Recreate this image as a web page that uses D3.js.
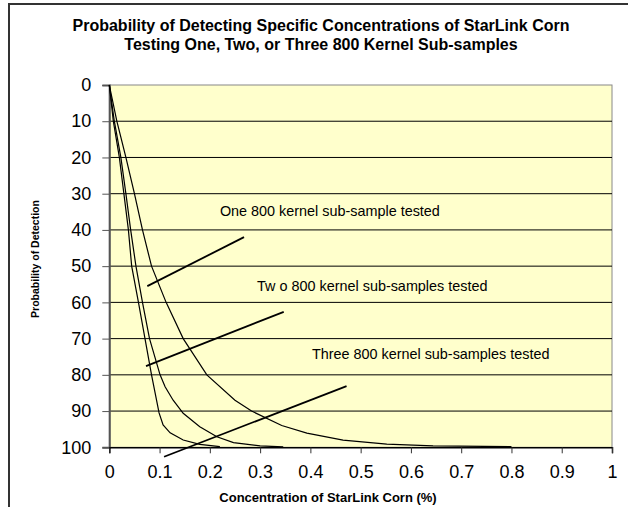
<!DOCTYPE html>
<html>
<head>
<meta charset="utf-8">
<script src="https://cdn.jsdelivr.net/npm/d3@7"></script>
<style>
  body { margin: 0; background: #fff; }
  text { font-family: Arial, "Liberation Sans", sans-serif; fill: #000; }
</style>
</head>
<body>
<script>
// concentrations (%) and detection probabilities
var oneConc = [0, 0.015, 0.033, 0.05, 0.066, 0.084, 0.113, 0.147, 0.194, 0.25, 0.283, 0.343, 0.393, 0.465, 0.552, 0.644, 0.8];
var oneProb = [0, 10, 20, 30, 40, 50, 60, 70, 80, 87, 90, 94, 96.1, 98, 99.1, 99.6, 99.8];

var twoConc = [0, 0.01, 0.023, 0.033, 0.0425, 0.053, 0.066, 0.08, 0.101, 0.111, 0.127, 0.147, 0.18, 0.214, 0.247, 0.3, 0.346];
var twoProb = [0, 10, 20, 30, 40, 50, 60, 70, 80, 83.3, 87, 90.6, 94.3, 97.1, 98.7, 99.6, 99.9];

var threeConc = [0, 0.008, 0.02, 0.029, 0.038, 0.0445, 0.058, 0.071, 0.084, 0.099, 0.107, 0.121, 0.147, 0.18, 0.22];
var threeProb = [0, 10, 20, 30, 40, 50, 60, 70, 80, 90.5, 93.8, 96, 98, 99.2, 99.8];

var xTicks = [0, 0.1, 0.2, 0.3, 0.4, 0.5, 0.6, 0.7, 0.8, 0.9, 1];
var yTicks = [0, 10, 20, 30, 40, 50, 60, 70, 80, 90, 100];

var titleLines = ["Probability of Detecting Specific Concentrations of StarLink Corn",
                  "Testing One, Two, or Three 800 Kernel Sub-samples"];

// callout labels and their pointer lines, in data units
var noteText = ["One 800 kernel sub-sample tested",
                "Tw o 800 kernel sub-samples tested",
                "Three 800 kernel sub-samples tested"];
var noteAt = [[0.22, 34.8], [0.294, 55.4], [0.403, 74.2]];
var noteLines = [[[0.0756, 55.5], [0.268, 42.0]],
                 [[0.073, 77.6], [0.347, 62.6]],
                 [[0.109, 102.6], [0.472, 83.1]]];

var W = 628, H = 507;
var plotLeft = 109.3, plotRight = 612, plotTop = 85, plotBottom = 447.3;

var svg = d3.select("body").append("svg")
    .attr("width", W)
    .attr("height", H);

// chart frame
svg.append("rect")
    .attr("x", 9).attr("y", 4)
    .attr("width", 660).attr("height", 540)
    .attr("fill", "#fff")
    .attr("stroke", "#333")
    .attr("stroke-width", 2);

var x = d3.scaleLinear().domain([0, 1]).range([plotLeft, plotRight]);
var y = d3.scaleLinear().domain([0, 100]).range([plotTop, plotBottom]);

svg.append("rect")
    .attr("x", plotLeft).attr("y", plotTop)
    .attr("width", plotRight - plotLeft).attr("height", plotBottom - plotTop)
    .attr("fill", "#FFFFCC")
    .attr("stroke", "#888")
    .attr("stroke-width", 1);

// gridlines
svg.append("g").selectAll("line")
    .data(yTicks.filter(function(d) { return d > 0 && d < 100; }))
    .enter().append("line")
    .attr("x1", plotLeft).attr("x2", plotRight)
    .attr("y1", function(d) { return y(d); })
    .attr("y2", function(d) { return y(d); })
    .attr("stroke", "#000")
    .attr("stroke-width", 1);

var yAxis = d3.axisLeft(y).tickValues(yTicks).tickSize(7).tickPadding(11).tickFormat(d3.format("d"));
var gy = svg.append("g").attr("transform", "translate(" + plotLeft + ",0)").call(yAxis);
gy.select(".domain").attr("stroke", "#555").attr("stroke-width", 2);
gy.selectAll(".tick line").attr("stroke", "#555");
gy.selectAll("text").attr("font-size", 18).style("font-family", "Arial, 'Liberation Sans', sans-serif");

var xAxis = d3.axisBottom(x).tickValues(xTicks).tickSize(6).tickPadding(12).tickFormat(d3.format("~g"));
var gx = svg.append("g").attr("transform", "translate(0," + plotBottom + ")").call(xAxis);
gx.select(".domain").attr("stroke", "#000").attr("stroke-width", 1.5);
gx.selectAll(".tick line").attr("stroke", "#333");
gx.selectAll("text").attr("font-size", 18).style("font-family", "Arial, 'Liberation Sans', sans-serif");

// curves
var line = d3.line()
    .x(function(d) { return x(d[0]); })
    .y(function(d) { return y(d[1]); });

[[oneConc, oneProb], [twoConc, twoProb], [threeConc, threeProb]].forEach(function(s) {
  svg.append("path")
      .datum(d3.zip(s[0], s[1]))
      .attr("fill", "none")
      .attr("stroke", "#000")
      .attr("stroke-width", 1.2)
      .attr("d", line);
});

// callouts
noteLines.forEach(function(l) {
  svg.append("line")
      .attr("x1", x(l[0][0])).attr("y1", y(l[0][1]))
      .attr("x2", x(l[1][0])).attr("y2", y(l[1][1]))
      .attr("stroke", "#000")
      .attr("stroke-width", 1.8);
});

noteText.forEach(function(t, i) {
  svg.append("text")
      .attr("x", x(noteAt[i][0]))
      .attr("y", y(noteAt[i][1]))
      .attr("dy", "0.35em")
      .attr("font-size", 14.4)
      .text(t);
});

// titles
svg.selectAll(".title")
    .data(titleLines)
    .enter().append("text")
    .attr("class", "title")
    .attr("x", 321)
    .attr("y", function(d, i) { return 31 + i * 19; })
    .attr("text-anchor", "middle")
    .attr("font-weight", "bold")
    .attr("font-size", 16)
    .text(function(d) { return d; });

svg.append("text")
    .attr("x", 328).attr("y", 502)
    .attr("text-anchor", "middle")
    .attr("font-weight", "bold")
    .attr("font-size", 13)
    .text("Concentration of StarLink Corn (%)");

svg.append("text")
    .attr("transform", "translate(39,259) rotate(-90)")
    .attr("text-anchor", "middle")
    .attr("font-weight", "bold")
    .attr("font-size", 10.5)
    .text("Probability of Detection");
</script>
</body>
</html>
